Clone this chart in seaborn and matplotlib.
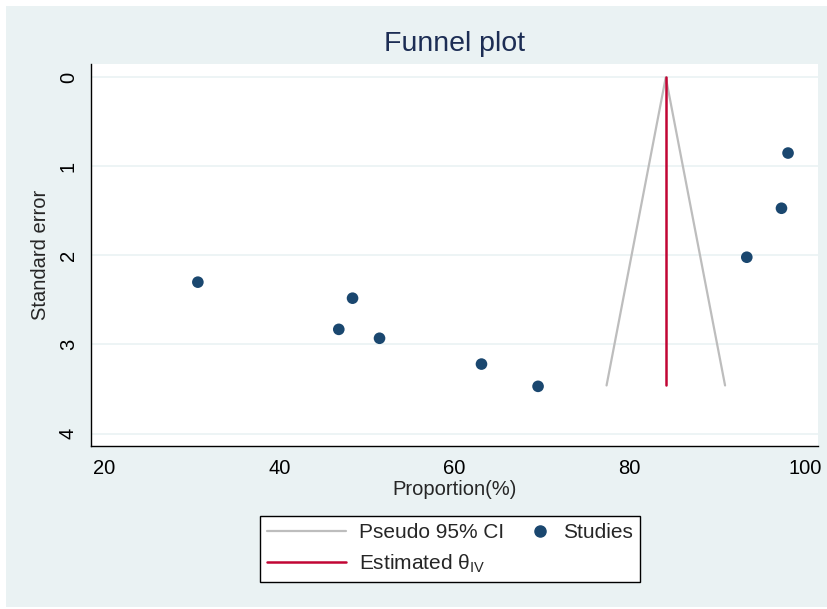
import pandas as pd
import seaborn as sns
from matplotlib import pyplot as plt
from matplotlib.legend_handler import HandlerLine2D
from matplotlib.lines import Line2D
from matplotlib.patches import Rectangle

# study estimates
proportion = [30.70, 48.36, 46.79, 51.44, 63.08, 69.54, 93.37, 97.33, 98.08]
std_error = [2.30, 2.48, 2.83, 2.93, 3.22, 3.47, 2.02, 1.47, 0.85]

# pooled estimate and pseudo 95% CI funnel
theta_iv = 84.12
funnel_x = [77.36, 84.12, 90.89]
funnel_se = [3.46, 0.0, 3.46]
theta_se = [0.0, 3.46]

x_ticks = [20, 40, 60, 80, 100]
y_ticks = [0, 1, 2, 3, 4]

NAVY = "#1a476f"
CRANBERRY = "#c10534"
CI_GREY = "#bdbdbd"
BG = "#eaf2f3"


class EndMarkerHandler(HandlerLine2D):
    # put the marker at the right end of the handle box, Stata style
    def get_xdata(self, legend, xdescent, ydescent, width, height, fontsize):
        x = width - xdescent - 0.45 * fontsize
        return [x, x], [x]


sns.set_style("white")
plt.rcParams["font.family"] = ["Liberation Sans", "DejaVu Sans"]
plt.rcParams["mathtext.fontset"] = "custom"
plt.rcParams["mathtext.rm"] = "Liberation Sans"

df = pd.DataFrame({"Proportion": proportion, "SE": std_error})

fig = plt.figure(figsize=(8.27, 6.09), dpi=100)
fig.patch.set_facecolor("white")
fig.patches.append(Rectangle((6 / 827, 2 / 609), 821 / 827, 601 / 609,
                             transform=fig.transFigure, facecolor=BG,
                             edgecolor="none", zorder=-10))

ax = fig.add_axes([91 / 827, 1 - 446 / 609, (818 - 91) / 827, (446 - 64) / 609])
ax.set_facecolor("white")

for t in y_ticks:
    ax.axhline(t, color=BG, lw=1.2, zorder=0)

ax.plot(funnel_x, funnel_se, color=CI_GREY, lw=1.6, zorder=2)
ax.plot([theta_iv, theta_iv], theta_se, color=CRANBERRY, lw=1.8, zorder=3)
sns.scatterplot(data=df, x="Proportion", y="SE", ax=ax, color=NAVY,
                s=70, edgecolor="none", zorder=4, legend=False)

ax.set_xlim(18.5, 101.5)
ax.set_ylim(4.14, -0.15)
ax.set_xticks(x_ticks)
ax.set_yticks(y_ticks)
ax.tick_params(axis="both", direction="out", length=6, width=1, labelsize=14.5,
               color="black", labelcolor="black")
ax.tick_params(axis="y", labelrotation=90)
for lbl in ax.get_yticklabels():
    lbl.set_verticalalignment("center")

for side in ["top", "right"]:
    ax.spines[side].set_visible(False)
for side in ["left", "bottom"]:
    ax.spines[side].set_color("black")
    ax.spines[side].set_linewidth(1)

ax.set_xlabel("Proportion(%)", fontsize=14.5, labelpad=1)
ax.set_ylabel("Standard error", fontsize=14.5, labelpad=6)

fig.text(455 / 827, 1 - 44 / 609, "Funnel plot", ha="center", va="center",
         fontsize=20.5, color="#1c2d54")

ci_handle = Line2D([], [], color=CI_GREY, lw=1.6)
theta_handle = Line2D([], [], color=CRANBERRY, lw=1.8)
study_handle = Line2D([], [], color=NAVY, marker="o", markersize=8, lw=0)
handles = [ci_handle, theta_handle, study_handle]
labels = ["Pseudo 95% CI", r"Estimated θ$_{\mathrm{IV}}$", "Studies"]
leg = fig.legend(handles, labels, ncol=2, loc="center",
                 bbox_to_anchor=(450 / 827, 1 - 549 / 609),
                 frameon=True, fancybox=False, edgecolor="black",
                 facecolor="white", framealpha=1,
                 handlelength=3.75, columnspacing=-1.55,
                 handletextpad=0.63, borderpad=0.35, labelspacing=0.5,
                 handler_map={study_handle: EndMarkerHandler()},
                 prop={"size": 15})
leg.get_frame().set_linewidth(1)

fig.savefig("out.png", dpi=100, facecolor=fig.get_facecolor())
